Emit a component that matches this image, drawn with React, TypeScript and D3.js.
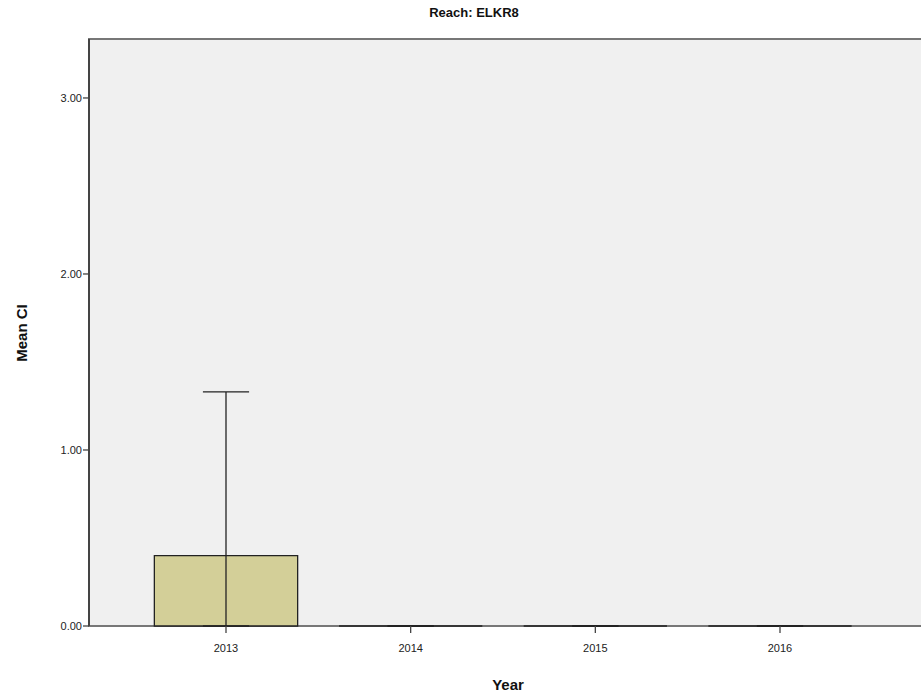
import React from "react";
import * as d3 from "d3";

const years = ["2013", "2014", "2015", "2016"];
const means = [0.4, 0, 0, 0];
const ciLower = [-0.53, 0, 0, 0];
const ciUpper = [1.33, 0, 0, 0];
const yTicks = [0, 1, 2, 3];
const title = "Reach: ELKR8";
const xLabel = "Year";
const yLabel = "Mean CI";

export default function App() {
  const W = 921, H = 696;
  const plot = { left: 89, top: 39, right: 940, bottom: 626 };
  const x = d3.scalePoint<string>().domain(years).range([226, 780]);
  const step = x.step();
  const barW = step * 0.776;
  const capW = step * 0.25;
  const y = d3.scaleLinear().domain([0, 3.335]).range([plot.bottom, plot.top]);
  const clampY = (v: number) => y(Math.max(0, Math.min(3.335, v)));
  const fmt = d3.format(".2f");
  const font = "'Liberation Sans', Arial, sans-serif";

  const barPath = (i: number) => {
    const p = d3.path();
    const cx = x(years[i])!;
    const x0 = cx - barW / 2, x1 = cx + barW / 2;
    const y0 = y(0), y1 = y(means[i]);
    p.moveTo(x0, y0);
    p.lineTo(x0, y1);
    p.lineTo(x1, y1);
    p.lineTo(x1, y0);
    p.closePath();
    return p.toString();
  };

  return (
    <svg width={W} height={H} style={{ position: "absolute", left: 0, top: 0 }}>
      <rect x={0} y={0} width={W} height={H} fill="#ffffff" />
      <rect x={plot.left} y={plot.top} width={plot.right - plot.left} height={plot.bottom - plot.top}
        fill="#f0f0f0" stroke="#777" strokeWidth={2} />
      {years.map((yr, i) => (
        <path key={yr} d={barPath(i)} fill="#d3cf98" stroke="#222" strokeWidth={1.3} />
      ))}
      {years.map((yr, i) => {
        const cx = x(yr)!;
        const yl = clampY(ciLower[i]);
        const yu = clampY(ciUpper[i]);
        return (
          <g key={"e" + yr} stroke="#222" strokeWidth={1.3}>
            <line x1={cx} x2={cx} y1={yl} y2={yu} />
            <line x1={cx - capW / 2} x2={cx + capW / 2} y1={yu} y2={yu} />
            <line x1={cx - capW / 2} x2={cx + capW / 2} y1={yl} y2={yl} />
          </g>
        );
      })}
      <line x1={plot.left} x2={plot.left} y1={plot.top} y2={plot.bottom} stroke="#444" strokeWidth={2} />
      {yTicks.map((t) => (
        <g key={"yt" + t}>
          <line x1={plot.left - 6} x2={plot.left} y1={y(t)} y2={y(t)} stroke="#444" strokeWidth={1.3} />
          <text x={plot.left - 7} y={y(t)} dy="0.35em" textAnchor="end" fontFamily={font} fontSize={11} fill="#222">
            {fmt(t)}
          </text>
        </g>
      ))}
      {years.map((yr) => (
        <g key={"xt" + yr}>
          <line x1={x(yr)!} x2={x(yr)!} y1={plot.bottom} y2={plot.bottom + 7} stroke="#444" strokeWidth={1.3} />
          <text x={x(yr)!} y={plot.bottom + 26} textAnchor="middle" fontFamily={font} fontSize={11} fill="#222">
            {yr}
          </text>
        </g>
      ))}
      <text x={474} y={17} textAnchor="middle" fontFamily="'Liberation Sans Narrow', 'Liberation Sans', Arial, sans-serif"
        fontWeight="bold" fontSize={13} fill="#111">{title}</text>
      <text x={508} y={690} textAnchor="middle" fontFamily={font} fontWeight="bold" fontSize={15} fill="#111">{xLabel}</text>
      <text transform={`translate(27, 333) rotate(-90)`} textAnchor="middle" fontFamily={font} fontWeight="bold"
        fontSize={15} fill="#111">{yLabel}</text>
    </svg>
  );
}
